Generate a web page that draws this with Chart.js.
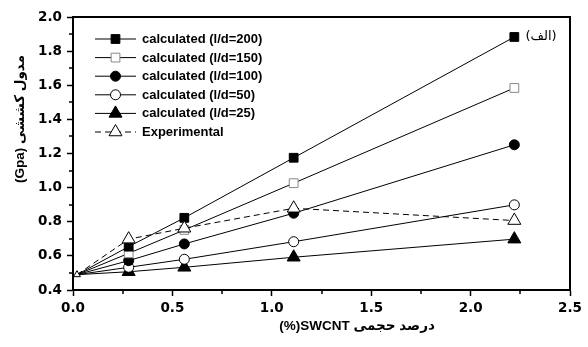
<!DOCTYPE html>
<html>
<head>
<meta charset="utf-8">
<script src="https://cdn.jsdelivr.net/npm/chart.js@4"></script>
<style>
  html, body { margin: 0; padding: 0; background: #fff; }
  #wrap { width: 588px; height: 347px; }
</style>
</head>
<body>
<div id="wrap"><canvas id="chart" width="588" height="347"></canvas></div>
<script>
const xValues = [0.02, 0.28, 0.56, 1.11, 2.22];
const ld200 = [0.49, 0.654, 0.823, 1.175, 1.883];
const ld150 = [0.49, 0.615, 0.752, 1.026, 1.584];
const ld100 = [0.49, 0.572, 0.67, 0.85, 1.251];
const ld50 = [0.49, 0.533, 0.58, 0.683, 0.899];
const ld25 = [0.49, 0.507, 0.533, 0.592, 0.698];
const experimental = [0.49, 0.698, 0.762, 0.879, 0.807];
const seriesLabels = ['calculated (l/d=200)', 'calculated (l/d=150)', 'calculated (l/d=100)',
  'calculated (l/d=50)', 'calculated (l/d=25)', 'Experimental'];

const yTitle = '(Gpa) مدول کششی';
const xTitle = '(%)SWCNT درصد حجمی';
const panelTag = '(الف)';

function pts(ys) {
  return ys.map((y, i) => ({ x: xValues[i], y: y }));
}

function series(label, ys, style, radius, firstRadius, fill, border, dashed) {
  return {
    label: label,
    data: pts(ys),
    borderColor: '#000',
    borderWidth: 1,
    borderDash: dashed ? [6, 4] : [],
    pointStyle: style,
    legendRadius: radius,
    // the markers at the origin point are hidden under one small open marker
    pointRadius: ys.map((v, i) => i === 0 ? firstRadius : radius),
    pointBackgroundColor: fill,
    pointBorderColor: border,
    pointBorderWidth: 1,
    showLine: true,
    fill: false,
    order: dashed ? -1 : 0
  };
}

const datasets = [
  series(seriesLabels[0], ld200, 'rect', 6.2, 0, '#000', '#000'),
  series(seriesLabels[1], ld150, 'rect', 6.2, 0, '#fff', '#888'),
  series(seriesLabels[2], ld100, 'circle', 5, 0, '#000', '#000'),
  series(seriesLabels[3], ld50, 'circle', 5, 0, '#fff', '#000'),
  series(seriesLabels[4], ld25, 'triangle', 7.5, 0, '#000', '#000'),
  series(seriesLabels[5], experimental, 'triangle', 7.5, 4, '#fff', '#000', true)
];

const decor = {
  id: 'decor',
  afterDraw(chart) {
    const ctx = chart.ctx;
    const a = chart.chartArea;
    const xs = chart.scales.x, ys = chart.scales.y;
    ctx.save();

    // frame
    ctx.strokeStyle = '#000';
    ctx.lineWidth = 2;
    ctx.strokeRect(a.left, a.top, a.right - a.left, a.bottom - a.top);

    // minor ticks
    ctx.lineWidth = 1.5;
    ctx.beginPath();
    for (let v = 0.25; v < 2.5; v += 0.5) {
      const px = Math.round(xs.getPixelForValue(v));
      ctx.moveTo(px, a.bottom);
      ctx.lineTo(px, a.bottom + 4);
    }
    for (let v = 0.5; v < 2.0; v += 0.2) {
      const py = Math.round(ys.getPixelForValue(v));
      ctx.moveTo(a.left, py);
      ctx.lineTo(a.left - 4, py);
    }
    ctx.stroke();

    // legend
    ctx.font = 'bold 13px "Liberation Sans", Arial, sans-serif';
    ctx.textBaseline = 'middle';
    ctx.textAlign = 'left';
    datasets.forEach((ds, row) => {
      const y = 39 + row * 18.6;
      ctx.strokeStyle = '#000';
      ctx.lineWidth = 1;
      ctx.setLineDash(ds.borderDash);
      ctx.beginPath();
      ctx.moveTo(95, y);
      ctx.lineTo(136, y);
      ctx.stroke();
      ctx.setLineDash([]);
      ctx.fillStyle = ds.pointBackgroundColor;
      ctx.strokeStyle = ds.pointBorderColor;
      Chart.helpers.drawPoint(ctx, { pointStyle: ds.pointStyle, radius: ds.legendRadius, borderWidth: 1 }, 115.5, y);
      ctx.fillStyle = '#000';
      ctx.fillText(ds.label, 142, y + 0.5);
    });

    // axis titles
    ctx.font = 'bold 13.5px "Liberation Sans", "DejaVu Sans", sans-serif';
    ctx.textAlign = 'center';
    ctx.fillText(xTitle, 357, 326);
    ctx.save();
    ctx.translate(20, 119);
    ctx.rotate(-Math.PI / 2);
    ctx.fillText(yTitle, 0, 0);
    ctx.restore();

    ctx.font = '13px "DejaVu Sans", sans-serif';
    ctx.fillText(panelTag, 541, 37);
    ctx.restore();
  }
};

new Chart(document.getElementById('chart'), {
  type: 'scatter',
  data: { datasets: datasets },
  options: {
    responsive: false,
    animation: false,
    layout: { padding: { top: 17, right: 18, left: 0, bottom: 0 } },
    plugins: { legend: { display: false }, tooltip: { enabled: false } },
    scales: {
      x: {
        type: 'linear',
        min: 0, max: 2.5,
        afterFit(s) { s.height = 57; },
        ticks: {
          stepSize: 0.5,
          color: '#000',
          padding: 4,
          font: { family: '"DejaVu Sans", sans-serif', size: 13.5, weight: 'bold' },
          callback: v => v.toFixed(1)
        },
        grid: { drawOnChartArea: false, tickLength: 6, tickColor: '#000', tickWidth: 1.5 },
        border: { color: '#000', width: 2 }
      },
      y: {
        min: 0.4, max: 2.0,
        afterFit(s) { s.width = 73; },
        ticks: {
          stepSize: 0.2,
          color: '#000',
          padding: 5,
          font: { family: '"DejaVu Sans", sans-serif', size: 13.5, weight: 'bold' },
          callback: v => v.toFixed(1)
        },
        grid: { drawOnChartArea: false, tickLength: 6, tickColor: '#000', tickWidth: 1.5 },
        border: { color: '#000', width: 2 }
      }
    }
  },
  plugins: [decor]
});
</script>
</body>
</html>
